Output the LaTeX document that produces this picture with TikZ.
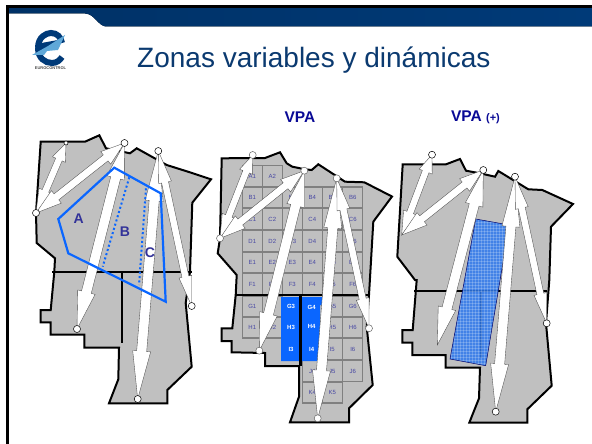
\documentclass[tikz,border=0pt]{standalone}
\usepackage{fontspec}
\setmainfont{Liberation Sans}
\usetikzlibrary{calc}
\definecolor{navy}{HTML}{003A78}
\definecolor{titleblue}{HTML}{0B3A70}
\definecolor{vpablue}{HTML}{0A0A96}
\definecolor{lblue}{HTML}{333399}
\definecolor{zoneblue}{HTML}{0A66FF}
\definecolor{hatchblue}{HTML}{2C78EE}
\definecolor{wing}{HTML}{5FA8D8}
\definecolor{mapgrey}{HTML}{C0C0C0}
\tikzset{
  mapshape/.style={fill=mapgrey,draw=black,line width=2pt,line join=miter},
  divider/.style={draw=black,line width=2pt},
  flowshape/.style={fill=white,draw=black!70,line width=0.35pt,line join=miter},
  port/.style={circle,fill=white,draw=black,line width=0.5pt,minimum size=7pt,inner sep=0pt},
  zone/.style={draw=zoneblue,line width=2.2pt,line join=miter},
  zonedot/.style={draw=zoneblue,line width=2pt,dash pattern=on 2pt off 2.4pt},
  zonelabel/.style={text=lblue,font=\bfseries\fontsize{14}{14}\selectfont,inner sep=0pt},
  cell/.style={draw=black!50,fill=mapgrey,line width=1.1pt,minimum width=20pt,minimum height=21pt,inner sep=0pt,text=lblue!90,font=\fontsize{6}{6}\selectfont},
  bluecell/.style={inner sep=0pt,text=white,font=\bfseries\fontsize{6}{6}\selectfont},
}
% a=end 1, b=end 2, head lengths, shaft half width, head half width
\newcommand{\flowarrow}[6]{%
  \path[flowshape] (#1)
    -- ($(#1)!#3pt!(#2)!#6pt!90:(#2)$)
    -- ($(#1)!#3pt!(#2)!#5pt!90:(#2)$)
    -- ($(#2)!#4pt!(#1)!#5pt!-90:(#1)$)
    -- ($(#2)!#4pt!(#1)!#6pt!-90:(#1)$)
    -- (#2)
    -- ($(#2)!#4pt!(#1)!#6pt!90:(#1)$)
    -- ($(#2)!#4pt!(#1)!#5pt!90:(#1)$)
    -- ($(#1)!#3pt!(#2)!#5pt!-90:(#2)$)
    -- ($(#1)!#3pt!(#2)!#6pt!-90:(#2)$)
    -- cycle;}
\newcommand{\maparrows}[1]{%
  \flowarrow{#1a}{#1b}{24}{18}{3.5}{7}
  \flowarrow{#1a}{#1c}{26}{24}{3.8}{8}
  \flowarrow{#1c}{#1e}{36}{38}{5}{9}
  \flowarrow{#1d}{#1f}{50}{48}{5}{9}
  \flowarrow{#1d}{#1g}{32}{30}{3.5}{6.5}}
\begin{document}
\begin{tikzpicture}[x=1pt,y=-1pt]
\useasboundingbox (0,0) rectangle (592,444);
\fill[white] (0,0) rectangle (592,444);
% header
\fill[left color=navy!85!black,right color=navy] (9,8) -- (592,8) -- (592,26.5) -- (106,26.5)
  .. controls (98,26) and (95,14) .. (85,13.5) -- (9,13.5) -- cycle;
\fill[black] (6,5) rectangle (592,8);
\fill[black] (6,5) rectangle (9,444);
% logo
\draw[navy,line width=6pt] (38,48) .. controls (38,37) and (46,33) .. (51,33) .. controls (57,33) and (61,37) .. (62,43);
\draw[navy,line width=6pt] (38,48) .. controls (38,58) and (45,63) .. (52,63) .. controls (57,63) and (60,60) .. (62,57);
\fill[navy] (36,44) -- (58,40) -- (56,47) -- (36,51) -- cycle;
\fill[wing] (32,55) -- (48,46) -- (65,35) -- (58,50) -- (47,51) -- (44,55) -- cycle;
\node[text=black!70,inner sep=0pt,font=\bfseries\fontsize{4}{4}\selectfont] (logotext) at (50.5,68.5) {EUROCONTROL};
% title
\node[anchor=base west,inner sep=0pt,text=titleblue,font=\fontsize{28}{28}\selectfont] (title) at (137,68) {Zonas variables y dinámicas};
\node[text=vpablue,font=\bfseries\fontsize{15.5}{16}\selectfont,inner sep=0pt] (vpa) at (300,117) {VPA};
\node[text=vpablue,font=\bfseries\fontsize{15.5}{16}\selectfont,inner sep=0pt] (vpaplus) at (475.5,117) {VPA {\fontsize{11}{11}\selectfont(+)}};

% ---------- map 1
\path[mapshape] (40.7,141.7) -- (85,141.7) -- (99.3,135.3) -- (106,148.3) -- (130,153.3) -- (136.7,148.3) -- (166.7,165) -- (188,171.7) -- (211,179.3) -- (192.3,202.7) -- (190,271.7) -- (185.7,303) -- (191.7,366.7) -- (167.3,390) -- (167.3,403.3) -- (109,403.3) -- (118.3,379.3) -- (119,347.7) -- (84.3,347.7) -- (84.3,334.7) -- (50.7,334.7) -- (50.7,322.3) -- (40.7,322.3) -- (40.7,310) -- (50.7,310) -- (54.3,271.7) -- (55,258.3) -- (36.7,243) -- (36,213) -- cycle;
\coordinate (Aa) at (36,213); \coordinate (Ab) at (66,143); \coordinate (Ac) at (124.5,143);
\coordinate (Ad) at (158.3,151); \coordinate (Ae) at (77,329); \coordinate (Af) at (137.7,399); \coordinate (Ag) at (191.7,306);
\draw[divider] (52,271.7) -- (191.5,271.7);
\draw[divider] (121.5,271.7) -- (121.5,343);
\maparrows{A}
\path[zonedot] (129.3,177.3) -- (102.7,266.7);
\path[zonedot] (146,188.3) -- (139,285);
\path[zone] (114.3,167.7) -- (160.7,193.3) -- (165.7,301.7) -- (68.3,253.3) -- (58.3,219) -- cycle;
\node[port,minimum size=4pt] (Abp) at (Ab) {};
\foreach \p in {a,c,d,e,f,g}{\node[port] (A\p p) at (A\p) {};}
\node[zonelabel] (labA) at (78.7,219) {A};
\node[zonelabel] (labB) at (125,231.5) {B};
\node[zonelabel] (labC) at (150,253) {C};

% ---------- map 2
\path[mapshape] (221.7,158.3) -- (265,158) -- (280,152.3) -- (286.7,163.3) -- (292.3,166.7) -- (305,169.3) -- (311.7,170) -- (318.3,164.3) -- (345,181.7) -- (364.3,182.3) -- (392,196.5) -- (373.3,221.7) -- (369,295) -- (366.7,326.7) -- (372.7,385) -- (349,408.3) -- (349,422.3) -- (290,422.3) -- (299,396.7) -- (299,366) -- (265,366) -- (265,353) -- (231.7,352.3) -- (231.7,341) -- (221.7,341) -- (221.7,328.3) -- (232.3,328.3) -- (235.7,295) -- (236.7,275) -- (217.7,253.3) -- (220,238.3) -- cycle;
\foreach \n/\x/\y in {A1/252.3/176,A2/272.3/176,
 B1/252.3/197.5,B2/272.3/197.5,B3/292.3/197.5,B4/312.3/197.5,B5/332.3/197.5,B6/352.8/197.5,
 C1/252.3/219,C2/272.3/219,C3/292.3/219,C4/312.3/219,C5/332.3/219,C6/352.8/219,
 D1/252.3/241,D2/272.3/241,D3/292.3/241,D4/312.3/241,D5/332.3/241,D6/352.8/241,
 E1/252.3/262.5,E2/272.3/262.5,E3/292.3/262.5,E4/312.3/262.5,E5/332.3/262.5,E6/352.8/262.5,
 F1/252.3/284,F2/272.3/284,F3/292.3/284,F4/312.3/284,F5/332.3/284,F6/352.8/284,
 G1/252.3/306.5,G2/272.3/306.5,G5/332.3/306.5,G6/352.8/306.5,
 H1/252.3/327.5,H2/272.3/327.5,H5/332.3/327.5,H6/352.8/327.5,
 I5/332.3/349,I6/352.8/349,
 J4/312.3/371,J5/332.3/371,J6/352.8/371,
 K4/312.3/392.5,K5/332.3/392.5}{\node[cell] (\n) at (\x,\y) {\n};}
\fill[zoneblue] (281,297) -- (323,297) -- (323,305) -- (320,305) -- (320,361) -- (281,361) -- cycle;
\foreach \n/\x/\y in {G3/291/306.5,H3/291/327.5,I3/291/349,G4/311.7/307,H4/311.7/326.7,I4/311.7/349}{\node[bluecell] (\n) at (\x,\y) {\n};}
\draw[divider,line width=2.6pt] (236,295) -- (369,295);
\draw[divider,line width=2.6pt] (300.7,295) -- (300.7,366);
\coordinate (Ba) at (220,238.3); \coordinate (Bb) at (252.7,155); \coordinate (Bc) at (304.3,170.7);
\coordinate (Bd) at (336.7,178.3); \coordinate (Be) at (259.3,350.7); \coordinate (Bf) at (317.7,418.3); \coordinate (Bg) at (369,328.3);
\maparrows{B}
\foreach \p in {a,b,c,d,e,f,g}{\node[port,draw=black!60] (B\p p) at (B\p) {};}

% ---------- map 3
\path[mapshape] (402.7,164.3) -- (446,164.3) -- (460,159) -- (466,170.7) -- (480,173.3) -- (495,176.7) -- (498.3,171) -- (528.3,189.3) -- (542.3,190) -- (573,204) -- (551,226.7) -- (549.3,280) -- (546,323.3) -- (551.7,385.7) -- (527.3,409.3) -- (527.3,422.7) -- (469.3,422.7) -- (479,398.3) -- (480,367.7) -- (445.7,367.7) -- (445.7,355) -- (412.3,355) -- (412.3,342.7) -- (402.3,342.7) -- (402.3,330) -- (412.7,330) -- (416.7,280) -- (415,280) -- (397.3,256.7) -- cycle;
\draw[divider] (414.3,291) -- (546.7,291);
\draw[divider] (480.7,291) -- (480.7,358);
\begin{scope}
\path[clip] (475.7,219) -- (509.3,225) -- (485.7,365.7) -- (450,359) -- cycle;
\fill[hatchblue,opacity=0.85] (445,215) rectangle (515,370);
\foreach \i in {0,...,23}{\draw[white,opacity=0.2,line width=0.8pt] (448+3*\i,215) -- (448+3*\i,370);}
\foreach \i in {0,...,52}{\draw[white,opacity=0.2,line width=0.8pt] (445,216+3*\i) -- (515,216+3*\i);}
\end{scope}
\draw[black!60!blue,line width=0.5pt] (475.7,219) -- (509.3,225) -- (485.7,365.7) -- (450,359) -- cycle;
\coordinate (Ca) at (401.7,235); \coordinate (Cb) at (432,154.7); \coordinate (Cc) at (483.3,170);
\coordinate (Cd) at (515,176.7); \coordinate (Ce) at (437.3,345); \coordinate (Cf) at (495.7,411.7); \coordinate (Cg) at (546.7,323.3);
\maparrows{C}
\foreach \p in {b,c,d,f,g}{\node[port] (C\p p) at (C\p) {};}
\end{tikzpicture}
\end{document}
